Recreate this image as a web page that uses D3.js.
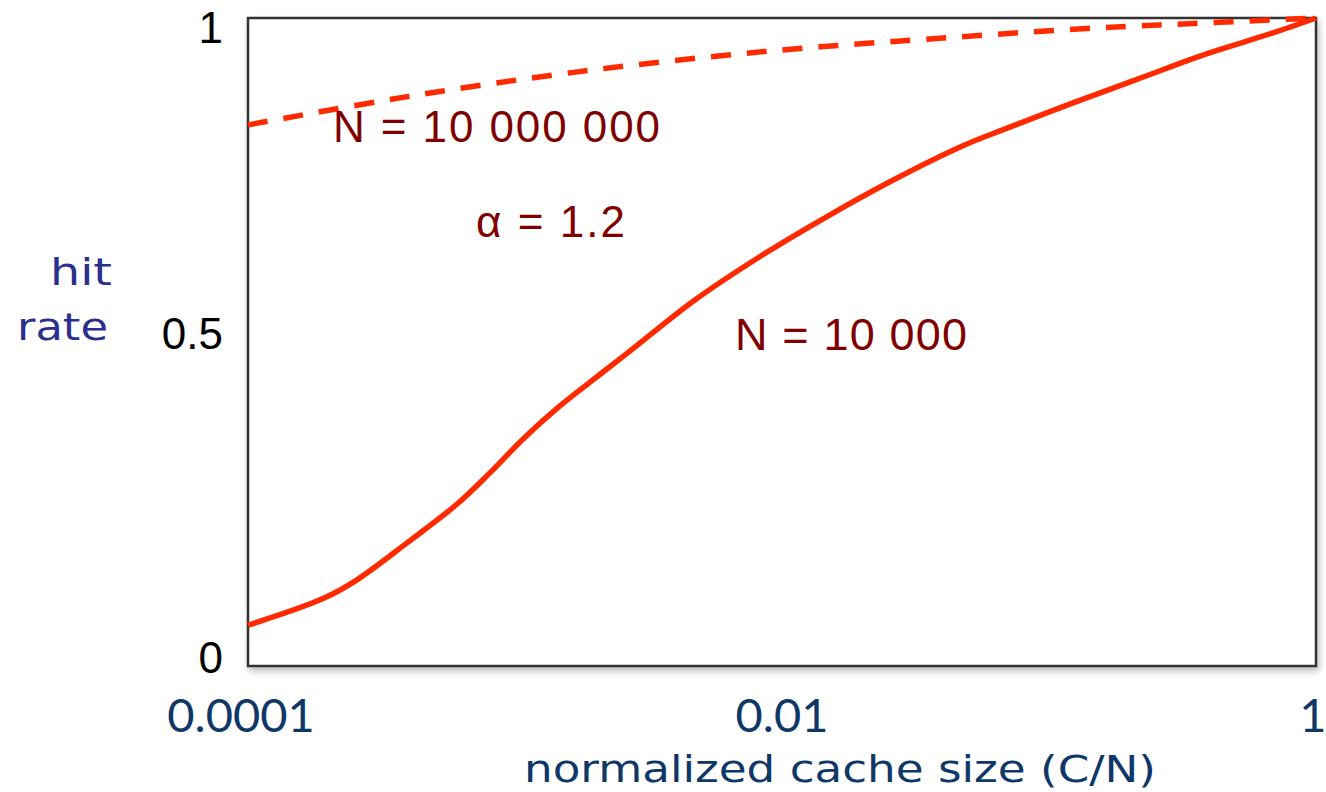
<!DOCTYPE html>
<html>
<head>
<meta charset="utf-8">
<script src="https://cdn.jsdelivr.net/npm/d3@7"></script>
<style>
  body { margin: 0; background: #fff; }
  svg { display: block; }
</style>
</head>
<body>
<div class="chart-box"></div>
<script>
// values
const smallSizes = [0.0001, 0.000191, 0.000256, 0.000394, 0.000607, 0.000805, 0.00107, 0.00144,
  0.00191, 0.00262, 0.00465, 0.00828, 0.0148, 0.0261, 0.0465, 0.0697, 0.123, 0.219, 0.391, 0.69, 1];
const smallHit = [0.063, 0.104, 0.133, 0.19, 0.25, 0.298, 0.35, 0.398,
  0.438, 0.482, 0.563, 0.632, 0.694, 0.75, 0.801, 0.83, 0.869, 0.907, 0.945, 0.977, 1.0];

const bigSizes = [0.0001, 0.0004, 0.0018, 0.009, 0.043, 0.155, 0.37, 1];
const bigHit = [0.835, 0.879, 0.918, 0.949, 0.97, 0.985, 0.992, 1.0];

const xTicks = [0.0001, 0.01, 1];
const xTickLabels = ["0.0001", "0.01", "1"];
const yTicks = [0, 0.5, 1];
const yTickLabels = ["0", "0.5", "1"];

const W = 1326, H = 792;
const margin = {top: 18, right: 10, bottom: 126, left: 248};

const svg = d3.select(".chart-box")
  .append("svg")
  .attr("width", W)
  .attr("height", H);

const defs = svg.append("defs");
const shadow = defs.append("filter")
  .attr("id", "shadow")
  .attr("x", "-5%").attr("y", "-5%")
  .attr("width", "110%").attr("height", "110%");
shadow.append("feDropShadow")
  .attr("dx", 2).attr("dy", 4)
  .attr("stdDeviation", 3)
  .attr("flood-color", "#000")
  .attr("flood-opacity", 0.25);

const x = d3.scaleLog()
  .domain([0.0001, 1])
  .range([margin.left, W - margin.right]);

const y = d3.scaleLinear()
  .domain([0, 1])
  .range([H - margin.bottom, margin.top]);

// frame
svg.append("rect")
  .attr("x", x.range()[0])
  .attr("y", y.range()[1])
  .attr("width", x.range()[1] - x.range()[0])
  .attr("height", y.range()[0] - y.range()[1])
  .attr("fill", "#fff")
  .attr("stroke", "#333")
  .attr("stroke-width", 2.5)
  .attr("filter", "url(#shadow)");

const line = d3.line()
  .x(d => x(d[0]))
  .y(d => y(d[1]))
  .curve(d3.curveCatmullRom.alpha(0.5));

svg.append("path")
  .datum(d3.zip(bigSizes, bigHit))
  .attr("d", line)
  .attr("fill", "none")
  .attr("stroke", "#ff2a00")
  .attr("stroke-width", 5.5)
  .attr("stroke-dasharray", "20,16");

svg.append("path")
  .datum(d3.zip(smallSizes, smallHit))
  .attr("d", line)
  .attr("fill", "none")
  .attr("stroke", "#ff2a00")
  .attr("stroke-width", 5.5);

// y tick labels
svg.selectAll(".ylab")
  .data(yTicks)
  .join("text")
  .attr("class", "ylab")
  .attr("x", margin.left - 25)
  .attr("y", d => Math.min(Math.max(y(d) + 7, 43), 673))
  .attr("text-anchor", "end")
  .attr("font-family", "Liberation Sans, Arial, sans-serif")
  .attr("font-size", 44)
  .attr("fill", "#000")
  .text((d, i) => yTickLabels[i]);

// x tick labels
svg.selectAll(".xlab")
  .data(xTicks)
  .join("text")
  .attr("class", "xlab")
  .attr("x", (d, i) => i === 0 ? x(d) - 7 : (i === xTicks.length - 1 ? x(d) - 3 : x(d)))
  .attr("y", 732)
  .attr("text-anchor", "middle")
  .attr("font-family", "Lato, sans-serif")
  .attr("font-size", 47)
  .attr("fill", "#0f3868")
  .text((d, i) => xTickLabels[i]);

// axis titles
const comic = "DejaVu Sans, sans-serif";
svg.append("text")
  .attr("x", 50).attr("y", 285)
  .attr("font-family", comic).attr("font-size", 38)
  .attr("fill", "#2b2f8e")
  .attr("textLength", 62).attr("lengthAdjust", "spacingAndGlyphs")
  .text("hit");
svg.append("text")
  .attr("x", 17).attr("y", 340)
  .attr("font-family", comic).attr("font-size", 38)
  .attr("fill", "#2b2f8e")
  .attr("textLength", 91).attr("lengthAdjust", "spacingAndGlyphs")
  .text("rate");
svg.append("text")
  .attr("x", 524).attr("y", 782)
  .attr("font-family", comic).attr("font-size", 38)
  .attr("fill", "#0f3868")
  .attr("textLength", 632).attr("lengthAdjust", "spacingAndGlyphs")
  .text("normalized cache size (C/N)");

// annotations
const annFont = "Liberation Sans, Arial, sans-serif";
svg.append("text")
  .attr("x", 333).attr("y", 142)
  .attr("font-family", annFont).attr("font-size", 44)
  .attr("fill", "#800000")
  .attr("textLength", 327).attr("lengthAdjust", "spacing")
  .text("N = 10 000 000");
svg.append("text")
  .attr("x", 476).attr("y", 237)
  .attr("font-family", annFont).attr("font-size", 44)
  .attr("fill", "#800000")
  .attr("textLength", 149).attr("lengthAdjust", "spacing")
  .text("α = 1.2");
svg.append("text")
  .attr("x", 735).attr("y", 350)
  .attr("font-family", annFont).attr("font-size", 45)
  .attr("fill", "#800000")
  .attr("textLength", 232).attr("lengthAdjust", "spacing")
  .text("N = 10 000");
</script>
</body>
</html>
